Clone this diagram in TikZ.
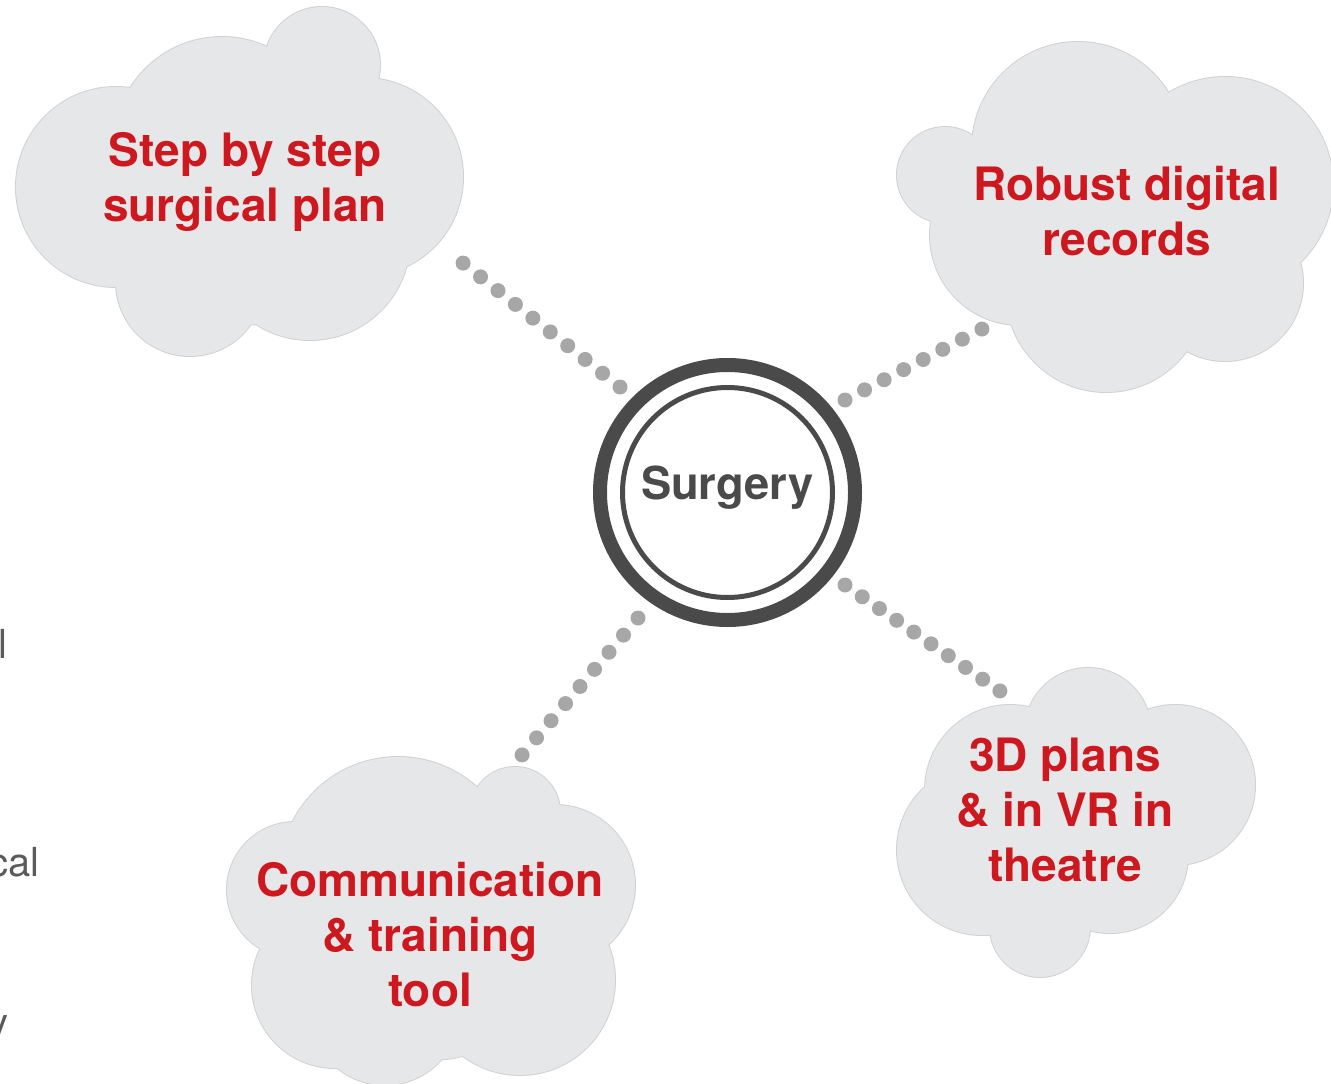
\documentclass[tikz,border=0pt]{standalone}
\usepackage{fontspec}
\setmainfont{TeX Gyre Heros}

\definecolor{surgred}{RGB}{204,24,30}
\definecolor{ringgrey}{RGB}{74,74,74}
\definecolor{dotgrey}{RGB}{167,167,167}
\definecolor{cloudgrey}{RGB}{230,231,232}
\definecolor{cloudline}{RGB}{210,210,212}
\definecolor{sidegrey}{RGB}{90,90,90}

\tikzset{every picture/.style={line width=0.75pt}}
\tikzset{
  cloudedge/.style={draw=cloudline, line width=1.5pt},
  cloudfill/.style={fill=cloudgrey},
  cloudlabel/.style={inner sep=0pt, align=center, text=surgred, font=\fontsize{34.5}{41.25}\selectfont\bfseries},
  dotlink/.style={draw=dotgrey, line width=11.25pt, line cap=round, dash pattern=on 0pt off #1},
  hubring/.style={draw=ringgrey, line width=10.5pt},
  hubinner/.style={draw=ringgrey, line width=3.75pt},
  hublabel/.style={inner sep=0pt, text=ringgrey, font=\fontsize{34}{40}\selectfont\bfseries},
  sidetext/.style={inner sep=0pt, text=sidegrey, font=\fontsize{30}{36}\selectfont}
}

% circles making up each cloud: x/y/radius
\def\plancloud{322/65/58, 222/145/108, 116/187/100, 364/177/99, 310/240/100, 190/282/74, 240/195/130}
\def\recordcloud{1078/148/106, 1225/185/108, 1225/283/78, 1106/292/100, 1020/235/90, 945/175/48, 1110/220/120}
\def\theatrecloud{1088/731/63, 1175/785/80, 1110/855/78, 1040/927/50, 982/850/85, 1010/790/85, 1075/815/110}
\def\toolcloud{398/875/118, 515/812/45, 555/885/80, 520/980/95, 385/1010/75, 295/890/68, 335/985/83, 430/930/130}

\begin{document}
\begin{tikzpicture}[x=0.75pt,y=0.75pt,yscale=-1,xscale=1]
\clip (0,0) rectangle (1331,1084);

%Clouds
\foreach \cx/\cy/\cr in \plancloud \draw[cloudedge] (\cx,\cy) circle (\cr);
\foreach \cx/\cy/\cr in \plancloud \fill[cloudfill] (\cx,\cy) circle (\cr);
\foreach \cx/\cy/\cr in \recordcloud \draw[cloudedge] (\cx,\cy) circle (\cr);
\foreach \cx/\cy/\cr in \recordcloud \fill[cloudfill] (\cx,\cy) circle (\cr);
\foreach \cx/\cy/\cr in \theatrecloud \draw[cloudedge] (\cx,\cy) circle (\cr);
\foreach \cx/\cy/\cr in \theatrecloud \fill[cloudfill] (\cx,\cy) circle (\cr);
\foreach \cx/\cy/\cr in \toolcloud \draw[cloudedge] (\cx,\cy) circle (\cr);
\foreach \cx/\cy/\cr in \toolcloud \fill[cloudfill] (\cx,\cy) circle (\cr);

%Hub
\coordinate (hub) at (727.5,492.5);
\draw[hubring] (hub) circle (127.5);
\draw[hubinner] (hub) circle (105);
\node[hublabel, anchor=base] (surgery) at (727.5,499) {Surgery};

%Dotted links
\coordinate (planstart) at (620,387);
\coordinate (planend) at (463,263);
\coordinate (recordstart) at (845,400);
\coordinate (recordend) at (982,329);
\coordinate (theatrestart) at (845,585);
\coordinate (theatreend) at (1000,691);
\coordinate (toolstart) at (638,618);
\coordinate (toolend) at (522,755);
\draw[dotlink=16.66pt] (planstart) -- (planend);
\draw[dotlink=16.52pt] (recordstart) -- (recordend);
\draw[dotlink=15.64pt] (theatrestart) -- (theatreend);
\draw[dotlink=16.82pt] (toolstart) -- (toolend);

% Text Node
\node[cloudlabel] (plan) at (245,182) {Step by step\\surgical plan};
% Text Node
\node[cloudlabel] (records) at (1127,211.5) {Robust digital\\records};
% Text Node
\node[cloudlabel] (theatre) at (1065,810) {3D plans\\\& in VR in\\theatre};
% Text Node
\node[cloudlabel] (tool) at (430,935) {Communication\\\& training\\tool};

% cut-off text at the left edge
\node[sidetext, anchor=base west] (sidel) at (-2.5,658) {l};
\node[sidetext, anchor=base east] (sidecal) at (40,876) {cal};
\node[sidetext, anchor=base east] (sidey) at (9,1036) {y};
\end{tikzpicture}
\end{document}
